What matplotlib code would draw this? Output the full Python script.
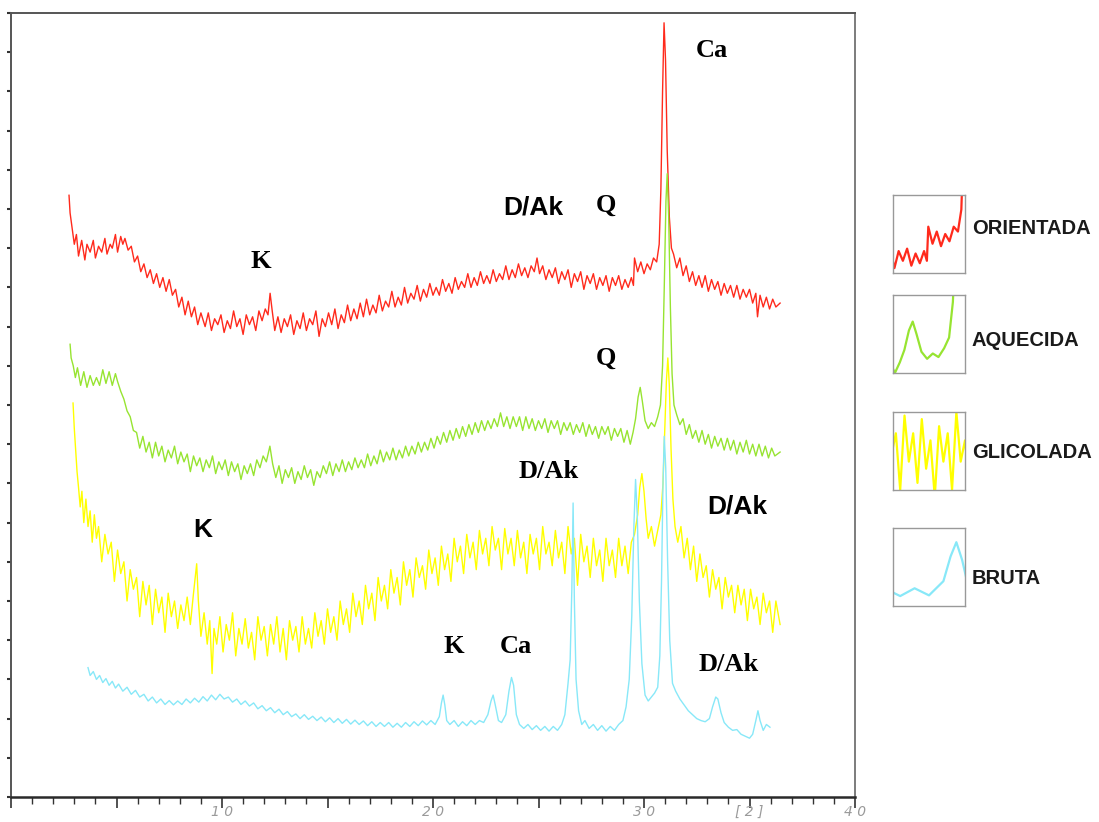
import matplotlib
matplotlib.use('Agg')
import matplotlib.pyplot as plt
from matplotlib.ticker import MultipleLocator, FixedLocator, NullFormatter

# (2theta, intensity), intensity in y-tick units
orientada = [
    (2.75, 15.35), (2.8, 14.9), (2.9, 14.5), (3.0, 14.1), (3.1, 14.35), (3.2, 13.8), (3.35, 14.2),
    (3.5, 13.7), (3.6, 14.1), (3.75, 13.9), (3.9, 14.2), (4.0, 13.75), (4.15, 14.05), (4.3, 13.9),
    (4.45, 14.25), (4.55, 13.85), (4.7, 14.1), (4.8, 14.0), (4.95, 14.35), (5.05, 13.9), (5.2, 14.3),
    (5.3, 14.1), (5.4, 14.25), (5.55, 13.95), (5.7, 14.05), (5.85, 13.65), (6.0, 13.8), (6.15, 13.4),
    (6.3, 13.6), (6.45, 13.25), (6.6, 13.45), (6.75, 13.1), (6.9, 13.35), (7.05, 13.0), (7.2, 13.25),
    (7.35, 12.9), (7.5, 13.2), (7.65, 12.8), (7.8, 12.95), (7.95, 12.5), (8.1, 12.75), (8.25, 12.3),
    (8.4, 12.65), (8.55, 12.25), (8.7, 12.5), (8.85, 12.05), (9.0, 12.35), (9.2, 12.0), (9.35, 12.35),
    (9.5, 11.9), (9.65, 12.2), (9.8, 12.05), (9.95, 12.3), (10.1, 11.85), (10.25, 12.15), (10.4, 11.95),
    (10.55, 12.4), (10.7, 12.0), (10.85, 12.2), (11.0, 11.8), (11.15, 12.3), (11.3, 12.05), (11.45, 12.25),
    (11.6, 11.9), (11.75, 12.4), (11.9, 12.15), (12.05, 12.45), (12.18, 12.3), (12.28, 12.85), (12.38, 12.4),
    (12.5, 11.9), (12.65, 12.25), (12.8, 11.85), (12.95, 12.2), (13.1, 12.0), (13.25, 12.3), (13.4, 11.8),
    (13.55, 12.15), (13.7, 11.95), (13.85, 12.35), (14.0, 11.9), (14.15, 12.2), (14.3, 12.05), (14.45, 12.4),
    (14.6, 11.75), (14.75, 12.2), (14.9, 12.0), (15.05, 12.35), (15.2, 12.05), (15.35, 12.45), (15.5, 11.95),
    (15.65, 12.3), (15.8, 12.1), (15.95, 12.55), (16.1, 12.15), (16.25, 12.45), (16.4, 12.2), (16.55, 12.6),
    (16.7, 12.25), (16.85, 12.7), (17.0, 12.3), (17.15, 12.55), (17.3, 12.35), (17.45, 12.8), (17.6, 12.4),
    (17.75, 12.65), (17.9, 12.5), (18.05, 12.9), (18.2, 12.5), (18.35, 12.75), (18.5, 12.55), (18.65, 13.0),
    (18.8, 12.6), (18.95, 12.85), (19.1, 12.7), (19.25, 13.05), (19.4, 12.65), (19.55, 12.95), (19.7, 12.75),
    (19.85, 13.1), (20.0, 12.8), (20.15, 13.0), (20.3, 12.8), (20.45, 13.2), (20.6, 12.9), (20.75, 13.1),
    (20.9, 12.85), (21.05, 13.25), (21.2, 12.95), (21.35, 13.15), (21.5, 13.0), (21.65, 13.35), (21.8, 13.0),
    (21.95, 13.25), (22.1, 13.05), (22.25, 13.4), (22.4, 13.1), (22.55, 13.3), (22.7, 13.1), (22.85, 13.45),
    (23.0, 13.15), (23.15, 13.35), (23.3, 13.2), (23.45, 13.55), (23.6, 13.2), (23.75, 13.45), (23.9, 13.25),
    (24.05, 13.6), (24.2, 13.3), (24.35, 13.5), (24.5, 13.25), (24.65, 13.55), (24.8, 13.4), (24.93, 13.75),
    (25.05, 13.35), (25.2, 13.55), (25.35, 13.2), (25.5, 13.45), (25.65, 13.25), (25.8, 13.5), (25.95, 13.1),
    (26.1, 13.4), (26.25, 13.2), (26.4, 13.45), (26.55, 13.0), (26.7, 13.35), (26.85, 13.15), (27.0, 13.4),
    (27.15, 12.95), (27.3, 13.3), (27.45, 13.1), (27.6, 13.35), (27.75, 12.95), (27.9, 13.25), (28.05, 13.05),
    (28.2, 13.3), (28.35, 12.9), (28.5, 13.25), (28.65, 13.05), (28.8, 13.3), (28.95, 12.95), (29.1, 13.2),
    (29.25, 13.0), (29.4, 13.25), (29.5, 13.05), (29.55, 13.75), (29.7, 13.4), (29.85, 13.65), (30.0, 13.35),
    (30.15, 13.6), (30.3, 13.45), (30.45, 13.75), (30.6, 13.65), (30.72, 14.1), (30.8, 15.5), (30.88, 18.0),
    (30.95, 19.75), (31.02, 18.8), (31.1, 16.5), (31.2, 14.8), (31.3, 14.0), (31.4, 13.85), (31.55, 13.5),
    (31.7, 13.75), (31.85, 13.3), (32.0, 13.55), (32.15, 13.15), (32.3, 13.4), (32.45, 13.05), (32.6, 13.3),
    (32.75, 13.0), (32.9, 13.3), (33.05, 12.9), (33.2, 13.2), (33.35, 12.95), (33.5, 13.15), (33.65, 12.8),
    (33.8, 13.1), (33.95, 12.85), (34.1, 13.05), (34.25, 12.75), (34.4, 13.05), (34.55, 12.7), (34.7, 12.95),
    (34.85, 12.75), (35.0, 12.95), (35.15, 12.6), (35.3, 12.85), (35.38, 12.25), (35.5, 12.8), (35.65, 12.5),
    (35.8, 12.75), (35.95, 12.45), (36.1, 12.7), (36.25, 12.5), (36.45, 12.6),
]

aquecida = [
    (2.8, 11.55), (2.85, 11.2), (2.95, 11.0), (3.05, 10.7), (3.15, 10.95), (3.3, 10.5), (3.45, 10.85),
    (3.6, 10.45), (3.75, 10.75), (3.9, 10.5), (4.05, 10.7), (4.2, 10.5), (4.35, 10.9), (4.5, 10.55),
    (4.65, 10.85), (4.8, 10.5), (4.95, 10.8), (5.05, 10.6), (5.2, 10.35), (5.35, 10.15), (5.5, 9.85),
    (5.65, 9.7), (5.8, 9.35), (5.95, 9.3), (6.1, 8.9), (6.25, 9.2), (6.4, 8.8), (6.55, 9.05), (6.7, 8.65),
    (6.85, 9.05), (7.0, 8.7), (7.15, 8.95), (7.3, 8.55), (7.45, 8.85), (7.6, 8.65), (7.75, 8.95),
    (7.9, 8.5), (8.05, 8.8), (8.2, 8.55), (8.35, 8.75), (8.5, 8.3), (8.65, 8.7), (8.8, 8.45), (8.95, 8.65),
    (9.1, 8.3), (9.25, 8.6), (9.4, 8.4), (9.55, 8.7), (9.7, 8.25), (9.85, 8.55), (10.0, 8.35), (10.15, 8.6),
    (10.3, 8.2), (10.45, 8.55), (10.6, 8.3), (10.75, 8.5), (10.9, 8.1), (11.05, 8.45), (11.2, 8.25),
    (11.35, 8.5), (11.5, 8.2), (11.65, 8.6), (11.8, 8.4), (11.95, 8.7), (12.1, 8.55), (12.27, 8.95),
    (12.4, 8.5), (12.55, 8.15), (12.7, 8.45), (12.85, 8.0), (13.0, 8.35), (13.15, 8.15), (13.3, 8.4),
    (13.45, 8.0), (13.6, 8.3), (13.75, 8.1), (13.9, 8.45), (14.05, 8.15), (14.2, 8.35), (14.35, 7.95),
    (14.5, 8.3), (14.65, 8.15), (14.8, 8.45), (14.95, 8.25), (15.1, 8.55), (15.25, 8.2), (15.4, 8.5),
    (15.55, 8.3), (15.7, 8.6), (15.85, 8.3), (16.0, 8.55), (16.15, 8.35), (16.3, 8.65), (16.45, 8.4),
    (16.6, 8.6), (16.75, 8.4), (16.9, 8.75), (17.05, 8.45), (17.2, 8.7), (17.35, 8.5), (17.5, 8.85),
    (17.65, 8.55), (17.8, 8.8), (17.95, 8.6), (18.1, 8.9), (18.25, 8.6), (18.4, 8.85), (18.55, 8.65),
    (18.7, 8.95), (18.85, 8.7), (19.0, 8.95), (19.15, 8.75), (19.3, 9.05), (19.45, 8.8), (19.6, 9.05),
    (19.75, 8.85), (19.9, 9.15), (20.05, 8.9), (20.2, 9.2), (20.35, 9.0), (20.5, 9.3), (20.65, 9.05),
    (20.8, 9.35), (20.95, 9.1), (21.1, 9.4), (21.25, 9.15), (21.4, 9.45), (21.55, 9.2), (21.7, 9.5),
    (21.85, 9.25), (22.0, 9.55), (22.15, 9.3), (22.3, 9.6), (22.45, 9.35), (22.6, 9.6), (22.75, 9.4),
    (22.9, 9.65), (23.05, 9.45), (23.2, 9.8), (23.35, 9.45), (23.5, 9.7), (23.65, 9.4), (23.8, 9.7),
    (23.95, 9.45), (24.1, 9.7), (24.25, 9.35), (24.4, 9.7), (24.55, 9.4), (24.7, 9.65), (24.85, 9.35),
    (25.0, 9.6), (25.15, 9.4), (25.3, 9.65), (25.45, 9.3), (25.6, 9.6), (25.75, 9.4), (25.9, 9.6),
    (26.05, 9.25), (26.2, 9.55), (26.35, 9.35), (26.5, 9.55), (26.65, 9.25), (26.8, 9.5), (26.95, 9.3),
    (27.1, 9.55), (27.25, 9.2), (27.4, 9.5), (27.55, 9.25), (27.7, 9.45), (27.85, 9.15), (28.0, 9.45),
    (28.15, 9.25), (28.3, 9.45), (28.45, 9.1), (28.6, 9.4), (28.75, 9.2), (28.9, 9.4), (29.05, 9.05),
    (29.2, 9.35), (29.35, 9.0), (29.48, 9.3), (29.6, 9.65), (29.72, 10.2), (29.82, 10.45), (29.92, 10.1),
    (30.05, 9.6), (30.2, 9.4), (30.35, 9.55), (30.5, 9.45), (30.65, 9.7), (30.78, 10.0), (30.88, 11.0),
    (30.96, 13.0), (31.04, 15.2), (31.1, 15.9), (31.17, 14.8), (31.25, 12.5), (31.33, 10.8), (31.42, 10.0),
    (31.55, 9.75), (31.7, 9.5), (31.85, 9.65), (32.0, 9.25), (32.15, 9.5), (32.3, 9.15), (32.45, 9.35),
    (32.6, 9.05), (32.75, 9.35), (32.9, 9.0), (33.05, 9.25), (33.2, 8.9), (33.35, 9.2), (33.5, 8.95),
    (33.65, 9.15), (33.8, 8.85), (33.95, 9.15), (34.1, 8.85), (34.25, 9.1), (34.4, 8.75), (34.55, 9.05),
    (34.7, 8.8), (34.85, 9.1), (35.0, 8.75), (35.15, 9.0), (35.3, 8.7), (35.45, 9.0), (35.6, 8.7),
    (35.75, 8.95), (35.9, 8.65), (36.05, 8.9), (36.2, 8.7), (36.45, 8.8),
]

glicolada = [
    (2.94, 10.05), (3.0, 9.4), (3.07, 8.8), (3.13, 8.3), (3.2, 7.9), (3.28, 7.4), (3.36, 7.8), (3.45, 7.0),
    (3.55, 7.6), (3.65, 6.9), (3.75, 7.3), (3.85, 6.5), (3.95, 7.2), (4.05, 6.6), (4.15, 6.9), (4.3, 6.0),
    (4.45, 6.7), (4.6, 6.2), (4.75, 6.5), (4.9, 5.5), (5.05, 6.3), (5.2, 5.7), (5.35, 6.0), (5.5, 5.0),
    (5.65, 5.8), (5.8, 5.3), (5.95, 5.6), (6.1, 4.6), (6.25, 5.5), (6.4, 4.9), (6.55, 5.4), (6.7, 4.4),
    (6.85, 5.3), (7.0, 4.7), (7.15, 5.1), (7.3, 4.2), (7.45, 5.2), (7.6, 4.6), (7.75, 5.0), (7.9, 4.3),
    (8.05, 4.9), (8.2, 4.5), (8.35, 5.1), (8.5, 4.4), (8.65, 5.2), (8.8, 5.95), (8.88, 5.0), (9.0, 4.1),
    (9.15, 4.7), (9.3, 3.9), (9.42, 4.5), (9.53, 3.15), (9.62, 4.3), (9.75, 3.9), (9.9, 4.6), (10.05, 3.7),
    (10.2, 4.4), (10.35, 4.0), (10.5, 4.7), (10.65, 3.6), (10.8, 4.3), (10.95, 3.9), (11.1, 4.55),
    (11.25, 3.8), (11.4, 4.2), (11.55, 3.5), (11.7, 4.6), (11.85, 4.0), (12.0, 4.35), (12.15, 3.6),
    (12.3, 4.4), (12.45, 3.9), (12.6, 4.6), (12.75, 3.7), (12.9, 4.3), (13.05, 3.5), (13.2, 4.5),
    (13.35, 4.0), (13.5, 4.35), (13.65, 3.7), (13.8, 4.6), (13.95, 3.9), (14.1, 4.3), (14.25, 3.8),
    (14.4, 4.7), (14.55, 4.1), (14.7, 4.5), (14.85, 3.9), (15.0, 4.8), (15.15, 4.2), (15.3, 4.6),
    (15.45, 4.0), (15.6, 5.0), (15.75, 4.4), (15.9, 4.8), (16.05, 4.2), (16.2, 5.2), (16.35, 4.6),
    (16.5, 5.0), (16.65, 4.4), (16.8, 5.4), (16.95, 4.8), (17.1, 5.2), (17.25, 4.5), (17.4, 5.6),
    (17.55, 5.0), (17.7, 5.4), (17.85, 4.8), (18.0, 5.8), (18.15, 5.2), (18.3, 5.6), (18.45, 4.9),
    (18.6, 6.0), (18.75, 5.4), (18.9, 5.8), (19.05, 5.1), (19.2, 6.1), (19.35, 5.6), (19.5, 5.9),
    (19.65, 5.3), (19.8, 6.3), (19.95, 5.7), (20.1, 6.1), (20.25, 5.4), (20.4, 6.4), (20.55, 5.8),
    (20.7, 6.2), (20.85, 5.5), (21.0, 6.6), (21.15, 6.0), (21.3, 6.4), (21.45, 5.7), (21.6, 6.7),
    (21.75, 6.1), (21.9, 6.5), (22.05, 5.8), (22.2, 6.8), (22.35, 6.2), (22.5, 6.6), (22.65, 5.9),
    (22.8, 6.9), (22.95, 6.3), (23.1, 6.6), (23.25, 5.8), (23.4, 6.85), (23.55, 6.2), (23.7, 6.6),
    (23.85, 5.9), (24.0, 6.8), (24.15, 6.1), (24.3, 6.5), (24.45, 5.7), (24.6, 6.7), (24.75, 6.2),
    (24.9, 6.6), (25.05, 5.8), (25.2, 6.9), (25.35, 6.2), (25.5, 6.5), (25.65, 5.9), (25.8, 6.8),
    (25.95, 6.1), (26.1, 6.5), (26.25, 5.7), (26.4, 6.9), (26.55, 6.2), (26.7, 6.6), (26.85, 5.4),
    (27.0, 6.7), (27.15, 6.0), (27.3, 6.4), (27.45, 5.6), (27.6, 6.6), (27.75, 5.9), (27.9, 6.3),
    (28.05, 5.5), (28.2, 6.6), (28.35, 5.9), (28.5, 6.3), (28.65, 5.6), (28.8, 6.6), (28.95, 5.9),
    (29.1, 6.4), (29.25, 5.7), (29.4, 6.5), (29.55, 6.7), (29.7, 7.2), (29.8, 7.9), (29.9, 8.25),
    (30.0, 7.8), (30.1, 7.1), (30.2, 6.6), (30.35, 6.9), (30.5, 6.4), (30.65, 6.8), (30.8, 7.2),
    (30.9, 8.0), (30.98, 9.3), (31.06, 10.6), (31.13, 11.2), (31.2, 10.5), (31.28, 8.9), (31.37, 7.6),
    (31.47, 6.9), (31.6, 6.5), (31.75, 6.9), (31.9, 6.1), (32.05, 6.6), (32.2, 5.8), (32.35, 6.4),
    (32.5, 5.5), (32.65, 6.2), (32.8, 5.6), (32.95, 5.9), (33.1, 5.1), (33.25, 5.8), (33.4, 5.3),
    (33.55, 5.6), (33.7, 4.8), (33.85, 5.6), (34.0, 5.1), (34.15, 5.4), (34.3, 4.7), (34.45, 5.4),
    (34.6, 4.9), (34.75, 5.3), (34.9, 4.5), (35.05, 5.3), (35.2, 4.8), (35.35, 5.1), (35.5, 4.4),
    (35.65, 5.2), (35.8, 4.7), (35.95, 5.0), (36.1, 4.2), (36.25, 5.0), (36.45, 4.4),
]

bruta = [
    (3.65, 3.3), (3.75, 3.1), (3.9, 3.2), (4.05, 3.0), (4.2, 3.1), (4.35, 2.92), (4.5, 3.02), (4.65, 2.85),
    (4.8, 2.95), (4.95, 2.78), (5.1, 2.88), (5.3, 2.7), (5.5, 2.8), (5.7, 2.62), (5.9, 2.72), (6.1, 2.55),
    (6.3, 2.62), (6.5, 2.45), (6.7, 2.55), (6.9, 2.4), (7.1, 2.5), (7.3, 2.36), (7.5, 2.46), (7.7, 2.35),
    (7.9, 2.45), (8.1, 2.36), (8.3, 2.5), (8.5, 2.4), (8.7, 2.52), (8.9, 2.42), (9.1, 2.56), (9.3, 2.45),
    (9.5, 2.6), (9.7, 2.48), (9.9, 2.62), (10.1, 2.5), (10.3, 2.55), (10.5, 2.42), (10.7, 2.5), (10.9, 2.36),
    (11.1, 2.45), (11.3, 2.32), (11.5, 2.4), (11.7, 2.25), (11.9, 2.33), (12.1, 2.2), (12.3, 2.28),
    (12.5, 2.15), (12.7, 2.24), (12.9, 2.1), (13.1, 2.18), (13.3, 2.05), (13.5, 2.12), (13.7, 2.0),
    (13.9, 2.1), (14.1, 1.98), (14.3, 2.06), (14.5, 1.95), (14.7, 2.04), (14.9, 1.92), (15.1, 2.02),
    (15.3, 1.9), (15.5, 2.0), (15.7, 1.88), (15.9, 1.98), (16.1, 1.86), (16.3, 1.96), (16.5, 1.85),
    (16.7, 1.94), (16.9, 1.82), (17.1, 1.92), (17.3, 1.8), (17.5, 1.9), (17.7, 1.8), (17.9, 1.9),
    (18.1, 1.78), (18.3, 1.88), (18.5, 1.78), (18.7, 1.9), (18.9, 1.8), (19.1, 1.92), (19.3, 1.82),
    (19.5, 1.94), (19.7, 1.84), (19.9, 1.95), (20.1, 1.85), (20.3, 2.05), (20.4, 2.4), (20.48, 2.6),
    (20.56, 2.35), (20.65, 1.95), (20.8, 1.85), (21.0, 1.95), (21.2, 1.8), (21.4, 1.92), (21.6, 1.82),
    (21.8, 1.95), (22.0, 1.85), (22.2, 1.95), (22.4, 1.9), (22.6, 2.1), (22.75, 2.45), (22.85, 2.6),
    (22.95, 2.35), (23.1, 1.95), (23.25, 1.9), (23.45, 2.1), (23.6, 2.7), (23.72, 3.05), (23.82, 2.85),
    (23.95, 2.1), (24.1, 1.85), (24.3, 1.75), (24.5, 1.85), (24.7, 1.72), (24.9, 1.82), (25.1, 1.7),
    (25.3, 1.8), (25.5, 1.68), (25.7, 1.8), (25.9, 1.7), (26.1, 1.85), (26.25, 2.1), (26.4, 2.9),
    (26.5, 3.5), (26.58, 5.3), (26.64, 7.5), (26.7, 5.0), (26.78, 3.0), (26.9, 2.2), (27.05, 1.85),
    (27.2, 1.95), (27.4, 1.75), (27.6, 1.85), (27.8, 1.7), (28.0, 1.82), (28.2, 1.68), (28.4, 1.8),
    (28.6, 1.7), (28.8, 1.85), (29.0, 1.95), (29.15, 2.3), (29.3, 3.0), (29.42, 4.6), (29.52, 6.9),
    (29.6, 8.1), (29.68, 7.2), (29.78, 5.0), (29.9, 3.4), (30.05, 2.6), (30.2, 2.45), (30.35, 2.55),
    (30.5, 2.65), (30.65, 2.8), (30.75, 3.6), (30.83, 5.5), (30.9, 8.0), (30.96, 9.2), (31.03, 8.4),
    (31.12, 6.0), (31.22, 4.0), (31.35, 2.9), (31.5, 2.7), (31.7, 2.5), (31.9, 2.35), (32.1, 2.2),
    (32.3, 2.1), (32.5, 2.0), (32.7, 1.95), (32.9, 1.92), (33.1, 2.0), (33.25, 2.3), (33.4, 2.55),
    (33.5, 2.5), (33.65, 2.15), (33.8, 1.9), (34.0, 1.78), (34.2, 1.7), (34.4, 1.72), (34.6, 1.6),
    (34.8, 1.55), (35.0, 1.5), (35.15, 1.6), (35.3, 1.95), (35.4, 2.2), (35.5, 1.95), (35.65, 1.7),
    (35.8, 1.85), (35.97, 1.78),
]

series_names = ['ORIENTADA', 'AQUECIDA', 'GLICOLADA', 'BRUTA']
series_colors = ['#ff2a1c', '#97e431', '#ffff00', '#88e8f8']

# peak labels: text, 2theta, intensity, style
peak_labels = [
    ('Ca', 33.2, 19.05, 'serif'),
    ('D/Ak', 24.75, 15.05, 'sans'),
    ('Q', 28.2, 15.1, 'serif'),
    ('K', 11.85, 13.65, 'serif'),
    ('Q', 28.2, 11.2, 'serif'),
    ('D/Ak', 25.5, 8.3, 'serif'),
    ('K', 9.1, 6.8, 'sans'),
    ('D/Ak', 34.4, 7.4, 'sans'),
    ('K', 21.0, 3.85, 'serif'),
    ('Ca', 23.95, 3.85, 'serif'),
    ('D/Ak', 34.0, 3.37, 'serif'),
]

xtick_pos = [10, 20, 30, 35, 40]
xtick_txt = ['1 0', '2 0', '3 0', '[ 2 ]', '4 0']

# snippets of each trace shown inside the legend boxes: (xmin, xmax, ymin, ymax)
legend_windows = [
    (28.3, 30.85, 12.8, 14.4),
    (29.3, 31.2, 9.0, 11.2),
    (23.0, 25.5, 5.8, 6.9),
    (19.6, 20.6, 1.7, 2.8),
]


fig = plt.figure(figsize=(10.99, 8.22), dpi=100)
ax = fig.add_axes([11 / 1099, 25 / 822, 844 / 1099, 784 / 822])

all_series = [orientada, aquecida, glicolada, bruta]
for data, color in zip(all_series, series_colors):
    x, y = zip(*data)
    ax.plot(x, y, color=color, linewidth=1.0, zorder=2)

for txt, x, y, style in peak_labels:
    if style == 'serif':
        fam = ['Liberation Serif', 'DejaVu Serif']
    else:
        fam = ['Liberation Sans', 'DejaVu Sans']
    ax.text(x, y, txt, family=fam, fontsize=19, fontweight='bold',
            ha='center', va='center', zorder=5,
            bbox=dict(facecolor='white', edgecolor='none', pad=1.5))

ax.set_xlim(0, 40)
ax.set_ylim(0, 20)

ax.xaxis.set_major_locator(FixedLocator([0, 5, 10, 15, 20, 25, 30, 35, 40]))
ax.xaxis.set_minor_locator(MultipleLocator(1))
ax.xaxis.set_major_formatter(NullFormatter())
ax.yaxis.set_major_locator(MultipleLocator(1))
ax.yaxis.set_major_formatter(NullFormatter())
ax.tick_params(axis='x', which='major', direction='out', length=8, width=1.2, color='#333333')
ax.tick_params(axis='x', which='minor', direction='out', length=5, width=1.0, color='#333333')
ax.tick_params(axis='y', which='major', direction='out', length=3, width=1.5, color='#333333')
ax.tick_params(top=False, right=False)

for pos, lab in zip(xtick_pos, xtick_txt):
    ax.text(pos, -0.38, lab, ha='center', va='center', fontsize=10,
            style='italic', color='#9a9a9a', clip_on=False)

ax.spines['bottom'].set_linewidth(1.8)
ax.spines['bottom'].set_color('#2a2a2a')
ax.spines['left'].set_linewidth(1.4)
ax.spines['left'].set_color('#555555')
ax.spines['top'].set_linewidth(1.4)
ax.spines['top'].set_color('#555555')
ax.spines['right'].set_linewidth(1.2)
ax.spines['right'].set_color('#666666')

# legend: small framed boxes with a piece of each trace
box_tops = [195, 295, 412, 528]
text_rows = [228, 340, 452, 578]
for i, name in enumerate(series_names):
    top = box_tops[i]
    lax = fig.add_axes([893 / 1099, (822 - top - 78) / 822, 72 / 1099, 78 / 822])
    x, y = zip(*all_series[i])
    lax.plot(x, y, color=series_colors[i], linewidth=1.6)
    x0, x1, y0, y1 = legend_windows[i]
    lax.set_xlim(x0, x1)
    lax.set_ylim(y0, y1)
    lax.set_xticks([])
    lax.set_yticks([])
    for sp in lax.spines.values():
        sp.set_color('#999999')
        sp.set_linewidth(1.0)
    fig.text(972 / 1099, 1 - text_rows[i] / 822, name,
             family=['Liberation Sans', 'DejaVu Sans'],
             fontsize=14.5, fontweight='bold', color='#1a1a1a',
             ha='left', va='center')

fig.savefig('out.png', dpi=100)
